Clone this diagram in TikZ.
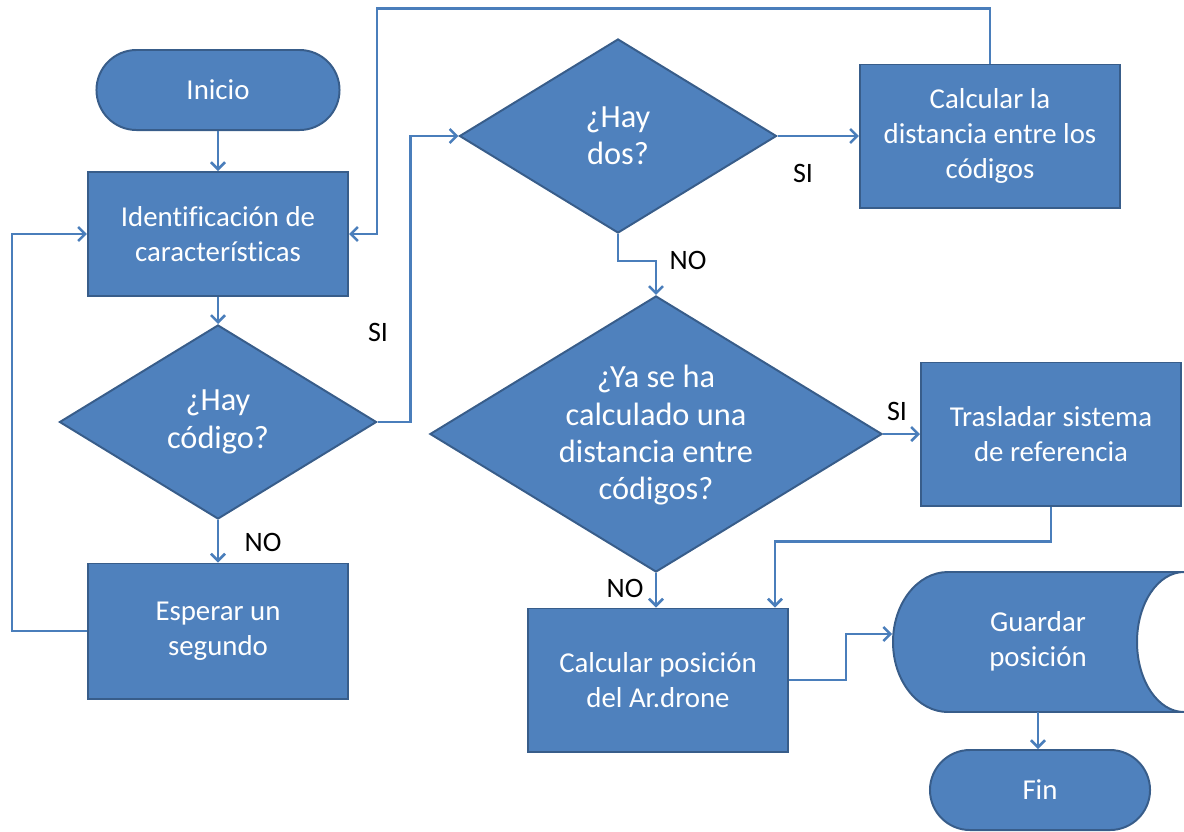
\documentclass[tikz,border=0pt]{standalone}
\usepackage{fontspec}
\setmainfont{Carlito}[Ligatures=CommonOff]
\usetikzlibrary{shapes.geometric,arrows.meta,calc}
\definecolor{boxfill}{HTML}{4F81BD}
\definecolor{boxline}{HTML}{385D8A}
\definecolor{wire}{HTML}{4A7EBB}
\begin{document}
\begin{tikzpicture}[x=0.025cm,y=-0.025cm,
  txt/.style={font=\fontsize{20.5}{25}\selectfont, text=white, align=center},
  proc/.style={txt, rectangle, fill=boxfill, draw=boxline, line width=1.4pt,
    minimum width=6.5cm, minimum height=3.575cm, inner sep=0pt},
  term/.style={txt, rectangle, rounded corners=1cm, fill=boxfill, draw=boxline,
    line width=1.4pt, minimum height=2cm, inner sep=0pt},
  decision/.style={diamond, fill=boxfill, draw=boxline, line width=1.4pt, inner sep=0pt},
  dtext/.style={txt, font=\fontsize{23}{26.5}\selectfont, inner sep=0pt},
  conn/.style={draw=wire, line width=1.8pt, -{Straight Barb[length=5pt,width=10pt]}},
  lbl/.style={font=\fontsize{20}{24}\selectfont, text=black}]
\useasboundingbox (0,0) rectangle (1184,831);

% left column
\node[term, minimum width=6.075cm] (inicio) at (218,90) {Inicio};
\node[proc, minimum height=3.1cm] (ident) at (218,234) {Identificación de\\características};
\node[decision, minimum width=7.925cm, minimum height=4.85cm] (hayc) at (218,422) {};
\node[dtext] (hayct) at (hayc.center) {¿Hay\\código?};
\node[proc, minimum height=3.375cm] (espera) at (218,631) {Esperar un\\segundo};

% middle and right
\node[decision, minimum width=7.925cm, minimum height=4.85cm] (hayd) at (618,136) {};
\node[dtext] (haydt) at (hayd.center) {¿Hay\\dos?};
\node[proc] (calcdist) at (990,136) {Calcular la\\distancia entre los\\códigos};
\node[decision, minimum width=11.3cm, minimum height=6.9cm] (ya) at (656,434) {};
\node[dtext] (yat) at ([yshift=-1pt]ya.center) {¿Ya se ha\\calculado una\\distancia entre\\códigos?};
\node[proc] (tras) at (1051,434) {Trasladar sistema\\de referencia};
\node[proc] (calcpos) at (658,680) {Calcular posición\\del Ar.drone};

% stored-data symbol
\fill[boxfill, draw=boxline, line width=1.4pt]
  (948,572) -- (1184,572)
  arc[start angle=270, end angle=90, x radius=47, y radius=70]
  -- (948,712)
  arc[start angle=90, end angle=270, x radius=55, y radius=70] -- cycle;
\node[txt, minimum width=7.275cm, minimum height=3.5cm, inner sep=0pt] (guardar) at (1038,642) {\raisebox{4pt}{\begin{tabular}{@{}c@{}}Guardar\\posición\end{tabular}}};
\node[term, minimum width=5.5cm] (fin) at (1040,790) {Fin};

% connectors
\draw[conn] (inicio.south) -- (ident.north);
\draw[conn] (ident.south) -- (hayc.north);
\draw[conn] (hayc.south) -- (espera.north);
\draw[conn] (espera.west) -- ++(-75,0) |- (ident.west);
\draw[conn] (hayc.east) -- ++(33,0) |- (hayd.west);
\draw[conn] (hayd.east) -- (calcdist.west);
\draw[conn] (calcdist.north) -- ++(0,-55) -| ($(ident.east)+(28,0)$) -- (ident.east);
\draw[conn] (hayd.south) -- ++(0,27) -| (ya.north);
\draw[conn] (ya.east) -- (tras.west);
\draw[conn] (ya.south) -- (calcpos.north -| ya.south);
\draw[conn] (tras.south) -- ++(0,35) -| ($(calcpos.north)+(117,0)$);
\draw[conn] (calcpos.east) -- ++(57,0) |- ([yshift=0.2cm]guardar.west);
\draw[conn] (guardar.south) -- (guardar.south |- fin.north);

% branch labels
\node[lbl] (l1) at (263,542) {NO};
\node[lbl] (l2) at (378,332) {SI};
\node[lbl] (l3) at (803,173) {SI};
\node[lbl] (l4) at (688,260) {NO};
\node[lbl] (l5) at (897,411) {SI};
\node[lbl] (l6) at (625,588) {NO};
\end{tikzpicture}
\end{document}
